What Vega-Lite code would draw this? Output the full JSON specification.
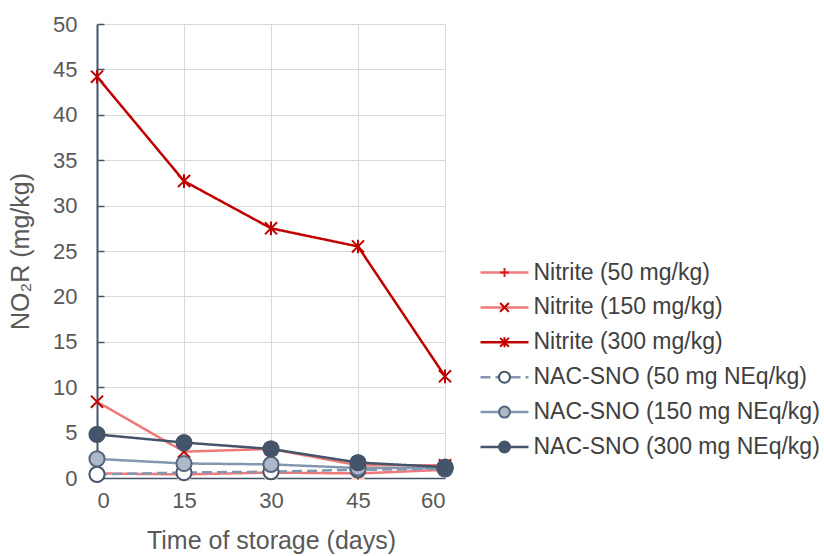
{
  "$schema": "https://vega.github.io/schema/vega-lite/v6.json",
  "width": 348,
  "height": 454,
  "autosize": "none",
  "padding": {"left": 97, "top": 24, "right": 379, "bottom": 78},
  "config": {
    "font": "Liberation Sans",
    "view": {"stroke": null},
    "axis": {
      "labelFont": "Liberation Sans",
      "titleFont": "Liberation Sans",
      "labelColor": "#595959",
      "titleColor": "#595959",
      "labelFontSize": 22,
      "titleFontSize": 25,
      "titleFontWeight": "normal",
      "gridColor": "#d9d9d9",
      "gridWidth": 1,
      "domainColor": "#44546a"
    },
    "legend": {
      "labelFont": "Liberation Sans",
      "labelFontSize": 23,
      "labelColor": "#404040",
      "labelLimit": 400,
      "rowPadding": 10.9,
      "padding": 0,
      "offset": 0,
      "orient": "none",
      "legendY": 237,
      "title": null
    }
  },
  "data": {
    "values": [
      {"day": 0, "series": "Nitrite (50 mg/kg)", "v": 0.5},
      {"day": 15, "series": "Nitrite (50 mg/kg)", "v": 0.4},
      {"day": 30, "series": "Nitrite (50 mg/kg)", "v": 0.6},
      {"day": 45, "series": "Nitrite (50 mg/kg)", "v": 0.5},
      {"day": 60, "series": "Nitrite (50 mg/kg)", "v": 0.9},
      {"day": 0, "series": "Nitrite (150 mg/kg)", "v": 8.4},
      {"day": 15, "series": "Nitrite (150 mg/kg)", "v": 2.9},
      {"day": 30, "series": "Nitrite (150 mg/kg)", "v": 3.2},
      {"day": 45, "series": "Nitrite (150 mg/kg)", "v": 1.4},
      {"day": 60, "series": "Nitrite (150 mg/kg)", "v": 1.4},
      {"day": 0, "series": "Nitrite (300 mg/kg)", "v": 44.2},
      {"day": 15, "series": "Nitrite (300 mg/kg)", "v": 32.7},
      {"day": 30, "series": "Nitrite (300 mg/kg)", "v": 27.5},
      {"day": 45, "series": "Nitrite (300 mg/kg)", "v": 25.5},
      {"day": 60, "series": "Nitrite (300 mg/kg)", "v": 11.2},
      {"day": 0, "series": "NAC-SNO (50 mg NEq/kg)", "v": 0.4},
      {"day": 15, "series": "NAC-SNO (50 mg NEq/kg)", "v": 0.6},
      {"day": 30, "series": "NAC-SNO (50 mg NEq/kg)", "v": 0.7},
      {"day": 45, "series": "NAC-SNO (50 mg NEq/kg)", "v": 0.9},
      {"day": 60, "series": "NAC-SNO (50 mg NEq/kg)", "v": 1.0},
      {"day": 0, "series": "NAC-SNO (150 mg NEq/kg)", "v": 2.1},
      {"day": 15, "series": "NAC-SNO (150 mg NEq/kg)", "v": 1.6},
      {"day": 30, "series": "NAC-SNO (150 mg NEq/kg)", "v": 1.5},
      {"day": 45, "series": "NAC-SNO (150 mg NEq/kg)", "v": 1.1},
      {"day": 60, "series": "NAC-SNO (150 mg NEq/kg)", "v": 1.1},
      {"day": 0, "series": "NAC-SNO (300 mg NEq/kg)", "v": 4.8},
      {"day": 15, "series": "NAC-SNO (300 mg NEq/kg)", "v": 3.9},
      {"day": 30, "series": "NAC-SNO (300 mg NEq/kg)", "v": 3.2},
      {"day": 45, "series": "NAC-SNO (300 mg NEq/kg)", "v": 1.7},
      {"day": 60, "series": "NAC-SNO (300 mg NEq/kg)", "v": 1.2}
    ]
  },
  "encoding": {
    "x": {
      "field": "day",
      "type": "quantitative",
      "scale": {"domain": [0, 60], "nice": false},
      "axis": {
        "values": [0, 15, 30, 45, 60],
        "ticks": false,
        "labelPadding": 12,
        "title": "Time of storage (days)",
        "titlePadding": 17,
        "domainWidth": 1.5
      }
    },
    "y": {
      "field": "v",
      "type": "quantitative",
      "scale": {"domain": [0, 50], "nice": false},
      "axis": {
        "values": [0, 5, 10, 15, 20, 25, 30, 35, 40, 45, 50],
        "tickSize": -7,
        "tickColor": "#44546a",
        "tickWidth": 1.5,
        "labelPadding": 27,
        "title": "NO₂R (mg/kg)",
        "titlePadding": 19,
        "domainWidth": 2
      }
    }
  },
  "layer": [
    {
      "mark": {"type": "line", "strokeWidth": 2.5},
      "encoding": {
        "color": {
          "field": "series",
          "type": "nominal",
          "sort": ["Nitrite (50 mg/kg)", "Nitrite (150 mg/kg)", "Nitrite (300 mg/kg)", "NAC-SNO (50 mg NEq/kg)", "NAC-SNO (150 mg NEq/kg)", "NAC-SNO (300 mg NEq/kg)"],
          "scale": {
            "range": ["#f07a7a", "#f07a7a", "#c00000", "#8497b0", "#8497b0", "#44546a"]
          },
          "legend": {
            "symbolType": "M-4.8,0H4.8",
            "symbolSize": 100,
            "symbolStrokeWidth": 2.5,
            "labelOffset": 17.5,
            "legendX": 396,
            "encode": {
              "symbols": {
                "update": {
                  "strokeDash": {"signal": "datum.value === 'NAC-SNO (50 mg NEq/kg)' ? [10, 5] : [1, 0]"}
                }
              }
            }
          }
        },
        "strokeDash": {
          "field": "series",
          "type": "nominal",
          "sort": ["Nitrite (50 mg/kg)", "Nitrite (150 mg/kg)", "Nitrite (300 mg/kg)", "NAC-SNO (50 mg NEq/kg)", "NAC-SNO (150 mg NEq/kg)", "NAC-SNO (300 mg NEq/kg)"],
          "scale": {
            "range": [[1, 0], [1, 0], [1, 0], [10, 5], [1, 0], [1, 0]]
          },
          "legend": null
        }
      }
    },
    {
      "transform": [{"filter": "datum.series === 'Nitrite (50 mg/kg)'"}],
      "mark": {"type": "point", "shape": "square", "filled": true, "color": "#fbdccb", "size": 170, "opacity": 1}
    },
    {
      "transform": [{"calculate": "datum.series", "as": "marker"}],
      "mark": {"type": "point", "filled": true, "strokeWidth": 2, "opacity": 1, "size": 230},
      "encoding": {
        "shape": {
          "field": "marker",
          "type": "nominal",
          "scale": {
            "domain": ["Nitrite (50 mg/kg)", "Nitrite (150 mg/kg)", "Nitrite (300 mg/kg)", "NAC-SNO (50 mg NEq/kg)", "NAC-SNO (150 mg NEq/kg)", "NAC-SNO (300 mg NEq/kg)"],
            "range": ["M-0.8,0H0.8M0,-0.8V0.8", "M-0.8,-0.8L0.8,0.8M-0.8,0.8L0.8,-0.8", "M-0.8,-0.8L0.8,0.8M-0.8,0.8L0.8,-0.8M0,-0.9V0.9", "circle", "circle", "circle"]
          },
          "legend": {"symbolSize": 121, "symbolStrokeWidth": 2, "labelExpr": "''", "legendX": 396}
        },
        "fill": {
          "field": "marker",
          "type": "nominal",
          "scale": {
            "domain": ["Nitrite (50 mg/kg)", "Nitrite (150 mg/kg)", "Nitrite (300 mg/kg)", "NAC-SNO (50 mg NEq/kg)", "NAC-SNO (150 mg NEq/kg)", "NAC-SNO (300 mg NEq/kg)"],
            "range": ["transparent", "transparent", "transparent", "#ffffff", "#adb9ca", "#44546a"]
          },
          "legend": {"symbolSize": 121, "symbolStrokeWidth": 2, "labelExpr": "''", "legendX": 396}
        },
        "stroke": {
          "field": "marker",
          "type": "nominal",
          "scale": {
            "domain": ["Nitrite (50 mg/kg)", "Nitrite (150 mg/kg)", "Nitrite (300 mg/kg)", "NAC-SNO (50 mg NEq/kg)", "NAC-SNO (150 mg NEq/kg)", "NAC-SNO (300 mg NEq/kg)"],
            "range": ["#d42020", "#c00000", "#c00000", "#44546a", "#56657c", "#44546a"]
          },
          "legend": {"symbolSize": 121, "symbolStrokeWidth": 2, "labelExpr": "''", "legendX": 396}
        }
      }
    }
  ]
}
